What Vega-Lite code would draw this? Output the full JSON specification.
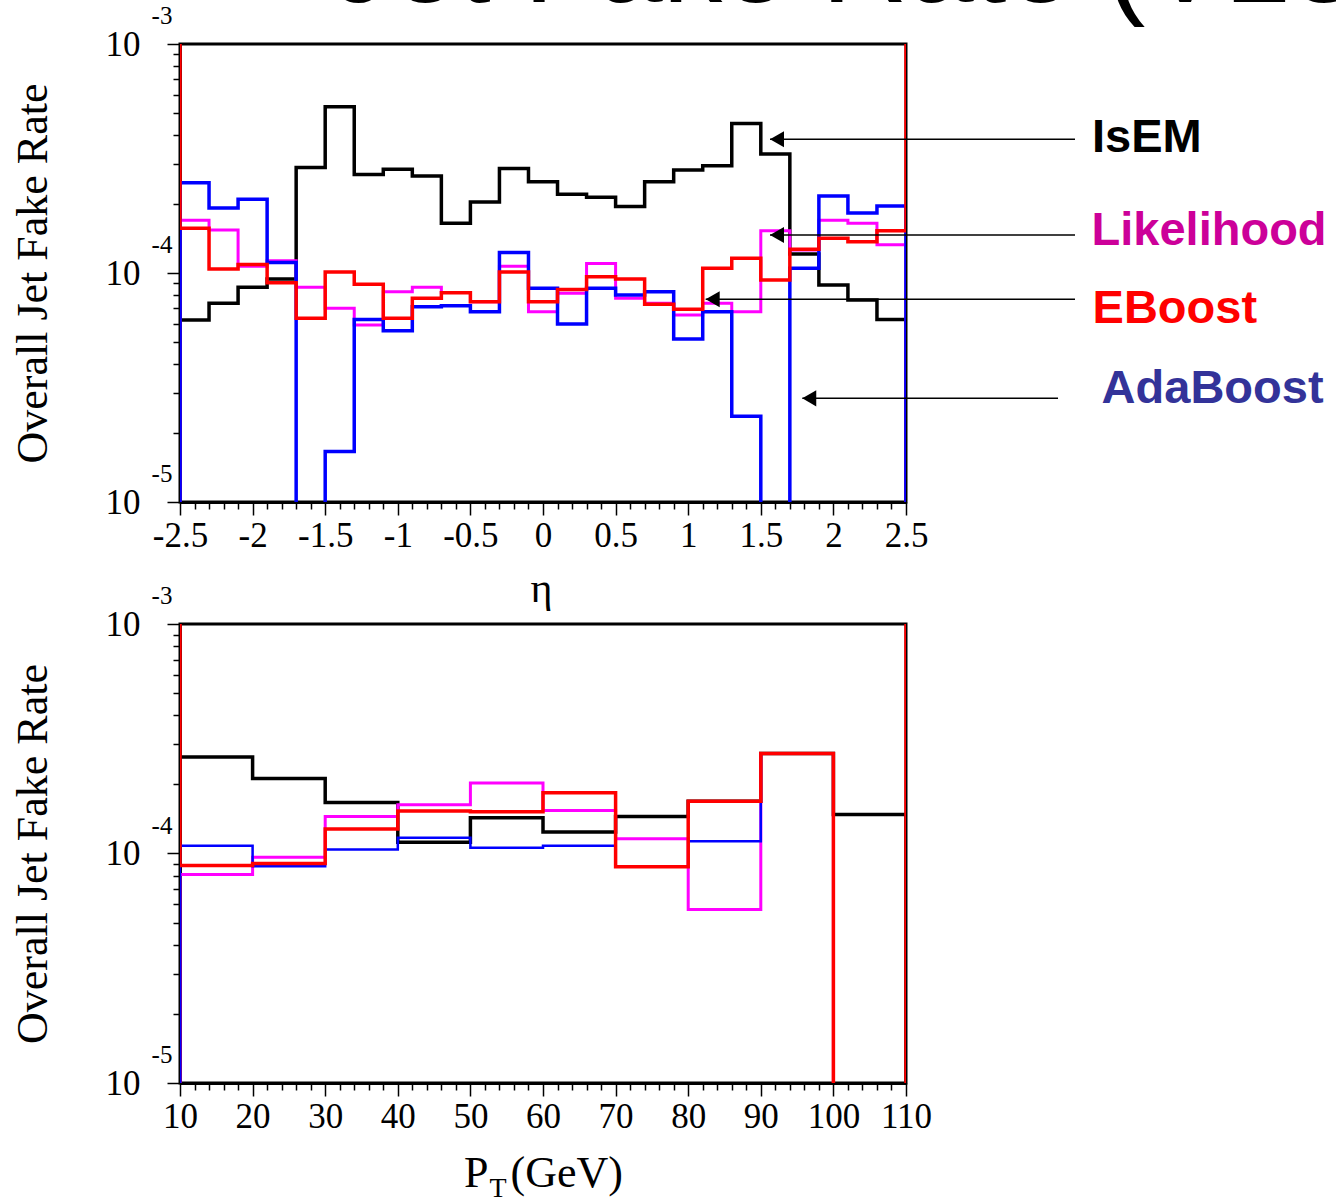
{
"$schema":"https://vega.github.io/schema/vega-lite/v6.json",
"background":"white",
"autosize":{"type":"pad"},
"padding":{"left":9,"top":-95,"right":5,"bottom":5},
"config":{
 "view":{"stroke":"black","strokeWidth":3},
 "axis":{"domainColor":"black","domainWidth":3,"tickColor":"black","tickWidth":1.5,"labelFont":"Liberation Serif","labelFontSize":35,"labelColor":"black","titleFont":"Liberation Serif","titleFontWeight":"normal","titleColor":"black","grid":false,"labelOverlap":false,"labelFlush":false,"labelBound":false}
},
"datasets":{
 "etaIsEM":[{"k":0,"x":-2.5,"y":1e-7},{"k":1,"x":-2.5,"y":6.23e-5},{"k":2,"x":-2.3,"y":7.37e-5},{"k":3,"x":-2.1,"y":8.66e-5},{"k":4,"x":-1.9,"y":9.41e-5},{"k":5,"x":-1.7,"y":2.89e-4},{"k":6,"x":-1.5,"y":5.32e-4},{"k":7,"x":-1.3,"y":2.69e-4},{"k":8,"x":-1.1,"y":2.84e-4},{"k":9,"x":-0.9,"y":2.65e-4},{"k":10,"x":-0.7,"y":1.65e-4},{"k":11,"x":-0.5,"y":2.04e-4},{"k":12,"x":-0.3,"y":2.86e-4},{"k":13,"x":-0.1,"y":2.5e-4},{"k":14,"x":0.1,"y":2.21e-4},{"k":15,"x":0.3,"y":2.14e-4},{"k":16,"x":0.5,"y":1.95e-4},{"k":17,"x":0.7,"y":2.5e-4},{"k":18,"x":0.9,"y":2.82e-4},{"k":19,"x":1.1,"y":2.94e-4},{"k":20,"x":1.3,"y":4.5e-4},{"k":21,"x":1.5,"y":3.31e-4},{"k":22,"x":1.7,"y":1.21e-4},{"k":23,"x":1.9,"y":8.86e-5},{"k":24,"x":2.1,"y":7.62e-5},{"k":25,"x":2.3,"y":6.27e-5},{"k":26,"x":2.5,"y":6.27e-5},{"k":27,"x":2.5,"y":1e-7}],
 "etaLik":[{"k":0,"x":-2.5,"y":1e-7},{"k":1,"x":-2.5,"y":1.7e-4},{"k":2,"x":-2.3,"y":1.54e-4},{"k":3,"x":-2.1,"y":1.07e-4},{"k":4,"x":-1.9,"y":1.13e-4},{"k":5,"x":-1.7,"y":8.66e-5},{"k":6,"x":-1.5,"y":7.01e-5},{"k":7,"x":-1.3,"y":5.93e-5},{"k":8,"x":-1.1,"y":8.29e-5},{"k":9,"x":-0.9,"y":8.66e-5},{"k":10,"x":-0.7,"y":8.22e-5},{"k":11,"x":-0.5,"y":7.49e-5},{"k":12,"x":-0.3,"y":1.07e-4},{"k":13,"x":-0.1,"y":6.78e-5},{"k":14,"x":0.1,"y":8.15e-5},{"k":15,"x":0.3,"y":1.1e-4},{"k":16,"x":0.5,"y":7.75e-5},{"k":17,"x":0.7,"y":7.37e-5},{"k":18,"x":0.9,"y":6.55e-5},{"k":19,"x":1.1,"y":7.37e-5},{"k":20,"x":1.3,"y":6.78e-5},{"k":21,"x":1.5,"y":1.53e-4},{"k":22,"x":1.7,"y":1.26e-4},{"k":23,"x":1.9,"y":1.7e-4},{"k":24,"x":2.1,"y":1.65e-4},{"k":25,"x":2.3,"y":1.33e-4},{"k":26,"x":2.5,"y":1.33e-4},{"k":27,"x":2.5,"y":1e-7}],
 "etaAda":[{"k":0,"x":-2.5,"y":1e-7},{"k":1,"x":-2.5,"y":2.48e-4},{"k":2,"x":-2.3,"y":1.92e-4},{"k":3,"x":-2.1,"y":2.1e-4},{"k":4,"x":-1.9,"y":1.11e-4},{"k":5,"x":-1.7,"y":1e-7},{"k":6,"x":-1.5,"y":1.66e-5},{"k":7,"x":-1.3,"y":6.27e-5},{"k":8,"x":-1.1,"y":5.6e-5},{"k":9,"x":-0.9,"y":7.13e-5},{"k":10,"x":-0.7,"y":7.2e-5},{"k":11,"x":-0.5,"y":6.78e-5},{"k":12,"x":-0.3,"y":1.23e-4},{"k":13,"x":-0.1,"y":8.57e-5},{"k":14,"x":0.1,"y":5.99e-5},{"k":15,"x":0.3,"y":8.57e-5},{"k":16,"x":0.5,"y":8.01e-5},{"k":17,"x":0.7,"y":8.29e-5},{"k":18,"x":0.9,"y":5.15e-5},{"k":19,"x":1.1,"y":6.78e-5},{"k":20,"x":1.3,"y":2.37e-5},{"k":21,"x":1.5,"y":1e-7},{"k":22,"x":1.7,"y":1.05e-4},{"k":23,"x":1.9,"y":2.17e-4},{"k":24,"x":2.1,"y":1.83e-4},{"k":25,"x":2.3,"y":1.96e-4},{"k":26,"x":2.5,"y":1.96e-4},{"k":27,"x":2.5,"y":1e-7}],
 "etaEB":[{"k":0,"x":-2.5,"y":0.01},{"k":1,"x":-2.5,"y":1.57e-4},{"k":2,"x":-2.3,"y":1.04e-4},{"k":3,"x":-2.1,"y":1.09e-4},{"k":4,"x":-1.9,"y":9.07e-5},{"k":5,"x":-1.7,"y":6.34e-5},{"k":6,"x":-1.5,"y":1.01e-4},{"k":7,"x":-1.3,"y":8.92e-5},{"k":8,"x":-1.1,"y":6.34e-5},{"k":9,"x":-0.9,"y":7.75e-5},{"k":10,"x":-0.7,"y":8.2e-5},{"k":11,"x":-0.5,"y":7.49e-5},{"k":12,"x":-0.3,"y":1.01e-4},{"k":13,"x":-0.1,"y":7.49e-5},{"k":14,"x":0.1,"y":8.48e-5},{"k":15,"x":0.3,"y":9.64e-5},{"k":16,"x":0.5,"y":9.41e-5},{"k":17,"x":0.7,"y":7.3e-5},{"k":18,"x":0.9,"y":6.94e-5},{"k":19,"x":1.1,"y":1.05e-4},{"k":20,"x":1.3,"y":1.16e-4},{"k":21,"x":1.5,"y":9.32e-5},{"k":22,"x":1.7,"y":1.27e-4},{"k":23,"x":1.9,"y":1.42e-4},{"k":24,"x":2.1,"y":1.37e-4},{"k":25,"x":2.3,"y":1.53e-4},{"k":26,"x":2.5,"y":1.53e-4},{"k":27,"x":2.5,"y":0.01}],
 "ptIsEM":[{"k":0,"x":10,"y":1e-7},{"k":1,"x":10,"y":2.63e-4},{"k":2,"x":20,"y":2.12e-4},{"k":3,"x":30,"y":1.67e-4},{"k":4,"x":40,"y":1.12e-4},{"k":5,"x":50,"y":1.43e-4},{"k":6,"x":60,"y":1.24e-4},{"k":7,"x":70,"y":1.45e-4},{"k":8,"x":80,"y":1.69e-4},{"k":9,"x":90,"y":2.73e-4},{"k":10,"x":100,"y":1.48e-4},{"k":11,"x":110,"y":1.48e-4},{"k":12,"x":110,"y":1e-7}],
 "ptLik":[{"k":0,"x":10,"y":1e-7},{"k":1,"x":10,"y":8.1e-5},{"k":2,"x":20,"y":9.64e-5},{"k":3,"x":30,"y":1.45e-4},{"k":4,"x":40,"y":1.63e-4},{"k":5,"x":50,"y":2.03e-4},{"k":6,"x":60,"y":1.54e-4},{"k":7,"x":70,"y":1.16e-4},{"k":8,"x":80,"y":5.7e-5},{"k":9,"x":90,"y":2.73e-4},{"k":10,"x":100,"y":1e-7},{"k":11,"x":110,"y":1e-7}],
 "ptAda":[{"k":0,"x":10,"y":1e-7},{"k":1,"x":10,"y":1.08e-4},{"k":2,"x":20,"y":8.81e-5},{"k":3,"x":30,"y":1.04e-4},{"k":4,"x":40,"y":1.17e-4},{"k":5,"x":50,"y":1.06e-4},{"k":6,"x":60,"y":1.08e-4},{"k":7,"x":70,"y":8.75e-5},{"k":8,"x":80,"y":1.13e-4},{"k":9,"x":90,"y":2.73e-4},{"k":10,"x":100,"y":1e-7},{"k":11,"x":110,"y":1e-7}],
 "ptEB":[{"k":0,"x":10,"y":0.01},{"k":1,"x":10,"y":8.86e-5},{"k":2,"x":20,"y":9.05e-5},{"k":3,"x":30,"y":1.28e-4},{"k":4,"x":40,"y":1.53e-4},{"k":5,"x":50,"y":1.52e-4},{"k":6,"x":60,"y":1.84e-4},{"k":7,"x":70,"y":8.75e-5},{"k":8,"x":80,"y":1.69e-4},{"k":9,"x":90,"y":2.73e-4},{"k":10,"x":100,"y":1e-7},{"k":11,"x":110,"y":1e-7},{"k":12,"x":110,"y":0.01}],
 "arrows":[{"n":"IsEM","x":1.5634,"x2":3.6639,"y":3.836e-4},{"n":"Likelihood","x":1.5634,"x2":3.6639,"y":1.466e-4},{"n":"EBoost","x":1.1205,"x2":3.6639,"y":7.677e-5},{"n":"AdaBoost","x":1.7858,"x2":3.547,"y":2.836e-5}],
 "notes":[{"n":"IsEM","x":3.781,"y":3.386e-4},{"n":"Likelihood","x":3.778,"y":1.326e-4},{"n":"EBoost","x":3.785,"y":6.03e-5},{"n":"AdaBoost","x":3.847,"y":2.7e-5}],
 "etaText":[{"t":"Jet Fake Rate (V13)","r":"title","x":-1.453,"y":0.001525},{"t":"-3","r":"exp","x":-2.5,"y":0.001},{"t":"-4","r":"exp","x":-2.5,"y":0.0001},{"t":"-5","r":"exp","x":-2.5,"y":0.00001}],
 "ptText":[{"t":"-3","r":"exp","x":10,"y":0.001},{"t":"-4","r":"exp","x":10,"y":0.0001},{"t":"-5","r":"exp","x":10,"y":0.00001},{"t":"T","r":"sub","x":53.8,"y":3.2e-6}]
},
"spacing":122,
"bounds":"flush",
"vconcat":[
 {
  "width":726,"height":458,
  "encoding":{
   "x":{"field":"x","type":"quantitative","scale":{"domain":[-2.5,2.5],"nice":false,"zero":false},
    "axis":{"values":[-2.5,-2.4,-2.3,-2.2,-2.1,-2,-1.9,-1.8,-1.7,-1.6,-1.5,-1.4,-1.3,-1.2,-1.1,-1,-0.9,-0.8,-0.7,-0.6,-0.5,-0.4,-0.3,-0.2,-0.1,0,0.1,0.2,0.3,0.4,0.5,0.6,0.7,0.8,0.9,1,1.1,1.2,1.3,1.4,1.5,1.6,1.7,1.8,1.9,2,2.1,2.2,2.3,2.4,2.5],
     "labelExpr":"abs(datum.value*2-round(datum.value*2))<0.01 ? ''+round(datum.value*10)/10 : ''",
     "tickSize":{"condition":{"test":"abs(datum.value*2-round(datum.value*2))<0.01","value":13},"value":7},
     "labelPadding":3,"title":"η","titleFontSize":42,"titleX":361,"titleY":99,"titleAlign":"center","titleBaseline":"alphabetic"}},
   "y":{"field":"y","type":"quantitative","scale":{"type":"log","domain":[0.00001,0.001],"nice":false},
    "axis":{"values":[0.00001,0.00002,0.00003,0.00004,0.00005,0.00006,0.00007,0.00008,0.00009,0.0001,0.0002,0.0003,0.0004,0.0005,0.0006,0.0007,0.0008,0.0009,0.001],
     "labelExpr":"abs(log(datum.value)/LN10-round(log(datum.value)/LN10))<0.01 ? '10' : ''",
     "tickSize":{"condition":{"test":"abs(log(datum.value)/LN10-round(log(datum.value)/LN10))<0.01","value":13},"value":7},
     "labelPadding":27,"labelBaseline":"middle","title":"Overall Jet Fake Rate","titleFontSize":44,"titleAngle":-90,"titleX":-134,"titleY":229,"titleAlign":"center","titleBaseline":"alphabetic"}}
  },
  "layer":[
   {"data":{"name":"etaIsEM"},"mark":{"type":"line","interpolate":"step-after","clip":true,"color":"black","strokeWidth":3.5},"encoding":{"order":{"field":"k"}}},
   {"data":{"name":"etaLik"},"mark":{"type":"line","interpolate":"step-after","clip":true,"color":"#ff00ff","strokeWidth":3},"encoding":{"order":{"field":"k"}}},
   {"data":{"name":"etaAda"},"mark":{"type":"line","interpolate":"step-after","clip":true,"color":"#0000ff","strokeWidth":3.5},"encoding":{"order":{"field":"k"}}},
   {"data":{"name":"etaEB"},"mark":{"type":"line","interpolate":"step-after","clip":true,"color":"#ff0000","strokeWidth":3.5},"encoding":{"order":{"field":"k"}}},
   {"data":{"name":"arrows"},"mark":{"type":"rule","color":"black","strokeWidth":1.5},"encoding":{"x2":{"field":"x2"}}},
   {"data":{"name":"arrows"},"mark":{"type":"point","shape":"triangle-left","filled":true,"size":260,"color":"black","opacity":1,"xOffset":7},"encoding":{}},
   {"data":{"name":"notes"},"transform":[{"filter":"datum.n==='IsEM'"}],"mark":{"type":"text","align":"left","baseline":"alphabetic","font":"Liberation Sans","fontWeight":"bold","fontSize":47,"color":"black"},"encoding":{"text":{"field":"n"}}},
   {"data":{"name":"notes"},"transform":[{"filter":"datum.n==='Likelihood'"}],"mark":{"type":"text","align":"left","baseline":"alphabetic","font":"Liberation Sans","fontWeight":"bold","fontSize":47,"color":"#cc0099"},"encoding":{"text":{"field":"n"}}},
   {"data":{"name":"notes"},"transform":[{"filter":"datum.n==='EBoost'"}],"mark":{"type":"text","align":"left","baseline":"alphabetic","font":"Liberation Sans","fontWeight":"bold","fontSize":47,"color":"#ff0000"},"encoding":{"text":{"field":"n"}}},
   {"data":{"name":"notes"},"transform":[{"filter":"datum.n==='AdaBoost'"}],"mark":{"type":"text","align":"left","baseline":"alphabetic","font":"Liberation Sans","fontWeight":"bold","fontSize":47,"color":"#333399"},"encoding":{"text":{"field":"n"}}},
   {"data":{"name":"etaText"},"transform":[{"filter":"datum.r==='title'"}],"mark":{"type":"text","align":"left","baseline":"alphabetic","font":"Liberation Sans","fontSize":119,"color":"black"},"encoding":{"text":{"field":"t"}}},
   {"data":{"name":"etaText"},"transform":[{"filter":"datum.r==='exp'"}],"mark":{"type":"text","align":"center","baseline":"middle","font":"Liberation Serif","fontSize":25,"color":"black","dx":-18,"dy":-28},"encoding":{"text":{"field":"t"}}}
  ]
 },
 {
  "width":726,"height":459,
  "encoding":{
   "x":{"field":"x","type":"quantitative","scale":{"domain":[10,110],"nice":false,"zero":false},
    "axis":{"values":[10,12,14,16,18,20,22,24,26,28,30,32,34,36,38,40,42,44,46,48,50,52,54,56,58,60,62,64,66,68,70,72,74,76,78,80,82,84,86,88,90,92,94,96,98,100,102,104,106,108,110],
     "labelExpr":"datum.value % 10 === 0 ? ''+datum.value : ''",
     "tickSize":{"condition":{"test":"datum.value % 10 === 0","value":13},"value":7},
     "labelPadding":3,"title":"P\u00a0\u00a0(GeV)","titleFontSize":44,"titleX":363,"titleY":103,"titleAlign":"center","titleBaseline":"alphabetic"}},
   "y":{"field":"y","type":"quantitative","scale":{"type":"log","domain":[0.00001,0.001],"nice":false},
    "axis":{"values":[0.00001,0.00002,0.00003,0.00004,0.00005,0.00006,0.00007,0.00008,0.00009,0.0001,0.0002,0.0003,0.0004,0.0005,0.0006,0.0007,0.0008,0.0009,0.001],
     "labelExpr":"abs(log(datum.value)/LN10-round(log(datum.value)/LN10))<0.01 ? '10' : ''",
     "tickSize":{"condition":{"test":"abs(log(datum.value)/LN10-round(log(datum.value)/LN10))<0.01","value":13},"value":7},
     "labelPadding":27,"labelBaseline":"middle","title":"Overall Jet Fake Rate","titleFontSize":44,"titleAngle":-90,"titleX":-134,"titleY":229.5,"titleAlign":"center","titleBaseline":"alphabetic"}}
  },
  "layer":[
   {"data":{"name":"ptIsEM"},"mark":{"type":"line","interpolate":"step-after","clip":true,"color":"black","strokeWidth":3.5},"encoding":{"order":{"field":"k"}}},
   {"data":{"name":"ptLik"},"mark":{"type":"line","interpolate":"step-after","clip":true,"color":"#ff00ff","strokeWidth":3},"encoding":{"order":{"field":"k"}}},
   {"data":{"name":"ptAda"},"mark":{"type":"line","interpolate":"step-after","clip":true,"color":"#0000ff","strokeWidth":2.5},"encoding":{"order":{"field":"k"}}},
   {"data":{"name":"ptEB"},"mark":{"type":"line","interpolate":"step-after","clip":true,"color":"#ff0000","strokeWidth":3.5},"encoding":{"order":{"field":"k"}}},
   {"data":{"name":"ptText"},"transform":[{"filter":"datum.r==='exp'"}],"mark":{"type":"text","align":"center","baseline":"middle","font":"Liberation Serif","fontSize":25,"color":"black","dx":-18,"dy":-28},"encoding":{"text":{"field":"t"}}},
   {"data":{"name":"ptText"},"transform":[{"filter":"datum.r==='sub'"}],"mark":{"type":"text","align":"center","baseline":"alphabetic","font":"Liberation Serif","fontSize":28,"color":"black"},"encoding":{"text":{"field":"t"}}}
  ]
 }
]
}
